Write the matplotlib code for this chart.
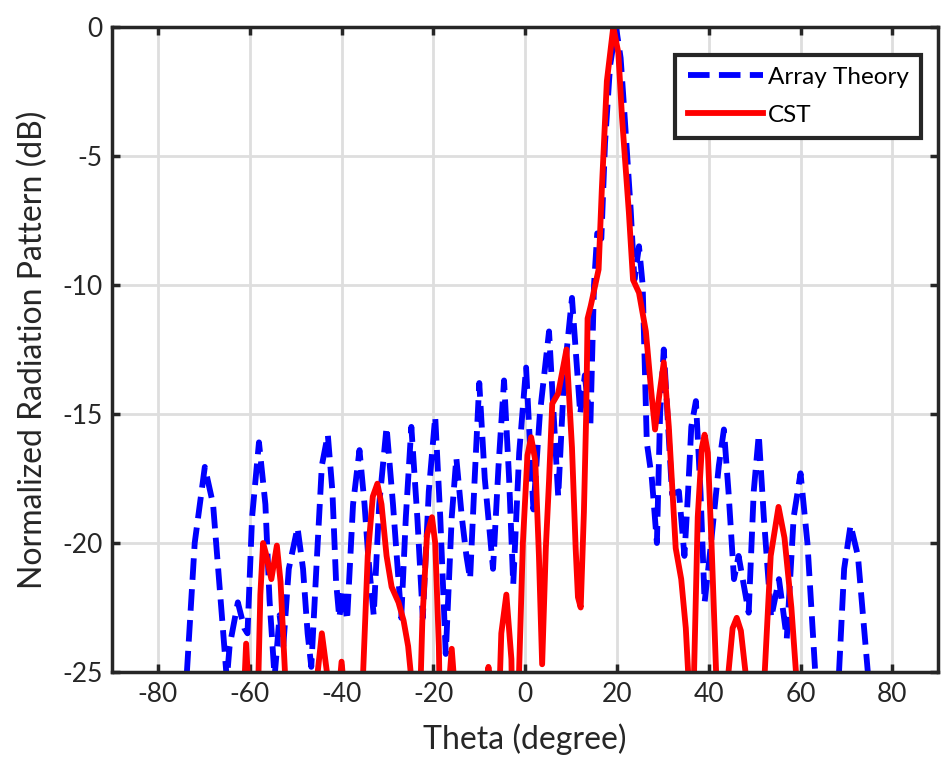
import numpy as np
import matplotlib
matplotlib.use('Agg')
from matplotlib import pyplot as plt

plt.rcParams['font.family'] = ['Lato', 'DejaVu Sans']
plt.rcParams['axes.unicode_minus'] = False

# Array Theory (blue dashed)
theory_theta = [-76, -73.7, -72, -69.8, -68, -66, -65, -64.4, -62.6, -61.2, -60.5, -59.5, -58, -56.6,
                -55.7, -54.6, -53.5, -52.7, -51.5, -49.6, -48.4, -47.4, -46.6, -45.5, -44.3, -43.0, -42,
                -41.2, -40.5, -39.6, -38.8, -37.5, -36.1, -35, -34.2, -33, -31.8, -30.2, -28.8, -27, -26,
                -24.8, -23.5, -22.3, -21, -19.6, -18.5, -17.3, -16, -15, -13.8, -12.8, -12, -11, -10,
                -8.8, -7, -5.8, -4.6, -3.5, -2.6, -1.3, 0.2, 1.0, 1.8, 3.2, 5.2, 6.2, 7.2, 8.5, 10.2,
                11.2, 12, 13, 14.2, 15.0, 15.7, 16.6, 17.4, 18.5, 19.8, 20.8, 21.5, 23, 23.8, 24.8, 25.6,
                26.5, 27.6, 28.7, 29.4, 30.2, 31, 32, 33.5, 34.7, 35.5, 36.2, 37.2, 38.2, 39.1, 40.5,
                42.2, 43.3, 44.3, 45.5, 46.5, 48.7, 49.8, 50.9, 52, 53.6, 55.3, 57, 58.5, 60, 61.5,
                63.3, 64.5, 67, 68.3, 69.5, 70.9, 72.5, 74.8, 76]
theory_db = [-32, -25, -20, -17.05, -18.5, -23, -25.3, -24, -22.3, -23.3, -23.5, -19, -16.1, -18.5,
             -22.2, -25.2, -22.8, -24.0, -21, -19.4, -21, -23.5, -24.8, -21, -17, -15.8, -18,
             -21.5, -22.9, -21.8, -23, -18.5, -16.4, -18.5, -20.5, -22.8, -18.5, -15.5, -18.5, -22.9, -19,
             -15.5, -19, -22.9, -18, -15.1, -19, -24.3, -19, -16.7, -19, -20.5, -21.4, -17.5, -13.8,
             -17.5, -21, -17, -13.7, -17.5, -21.6, -16.5, -13.2, -16, -18.7, -15, -11.8, -15, -18.2, -13.5, -10.5,
             -13, -15, -13.5, -15.5, -10, -8.0, -8.2, -4.5, -1.5, 0, -1.2, -3.0, -7.1, -9.8, -8.5, -10,
             -16.1, -17.5, -20, -15, -12.5, -15, -18.1, -18, -20.5, -18, -15.5, -14.5, -18, -22.3, -20,
             -17, -15.6, -18, -21.4, -20.5, -22.7, -18, -15.8, -19, -22.9, -21.4, -23.7, -19, -17.3, -20,
             -25.3, -30, -30, -25.3, -21, -19.3, -20.5, -25.3, -30]

# CST (red solid)
cst_theta = [-61.8, -60.8, -59.6, -58.5, -57.7, -57.1, -56.5, -55.3, -54.1, -53.3, -52.2, -51.5,
             -46, -45.2, -44.3, -43.2, -42, -40.7, -40, -39.3, -38,
             -36.2, -35.3, -34.3, -33.2, -32.2, -31.3, -30.2, -29.1, -27.6, -26.5, -25.5, -24.4, -24,
             -23.2, -22.4, -21.4, -20.3, -19.6, -18.8, -18.3,
             -16.8, -16, -15.2, -14, -8.6, -8, -7.4, -6, -5.2, -4.1, -3.0, -2.5,
             -1.5, -0.5, 0.5, 1.3, 2.2, 3, 3.7, 4.5, 5.2, 5.9, 7.2, 9.0, 10.2, 11.0, 11.5, 12.1, 12.8,
             13.3, 13.6, 14.3, 16.0, 16.7, 17.8, 19.2, 20.3, 21.1, 22.6, 23.5, 24.8, 26.3, 27.4, 28.3,
             29.2, 30.2, 31.3, 32.8, 34.0, 35.0, 35.8, 36.3,
             36.8, 37.6, 38.5, 39.1, 39.8, 40.6, 41.7, 42.2,
             43.5, 44.3, 45.2, 46.1, 47, 48, 48.8,
             51, 52.2, 53.5, 55.2, 56.5, 58.0, 59.2, 60]
cst_db = [-28, -23.9, -28, -28, -22, -20.0, -20.4, -21.4, -20.1, -21.5, -25.5, -32,
          -32, -25, -23.5, -25, -32, -26, -24.6, -26, -35,
          -30, -25, -20.5, -18.2, -17.7, -18.5, -20.5, -21.7, -22.3, -23, -24, -26, -30,
          -28, -23, -19.7, -19.0, -20, -24, -30,
          -26, -24.1, -26, -35, -25.5, -24.8, -25.5, -28, -23.5, -22.0, -24.5, -30,
          -26, -20, -16.6, -15.9, -16.8, -20.5, -24.7, -20.2, -17.6, -14.6, -14.2, -12.5, -16.3, -20.2, -22.1, -22.5, -18.8,
          -15.0, -11.3, -10.8, -9.4, -6.3, -2.1, 0.0, -1.0, -3.5, -7.2, -9.8, -10.3, -11.8, -14, -15.6,
          -14.3, -13.0, -15.5, -20.2, -21.4, -23.3, -26, -27,
          -25, -19, -16.3, -15.8, -16.5, -20, -25.5, -28,
          -30, -25, -23.3, -22.9, -23.4, -25, -28,
          -30, -25, -20.5, -18.6, -19.8, -22.5, -25.5, -30]

xticks = [-80, -60, -40, -20, 0, 20, 40, 60, 80]
yticks = [-25, -20, -15, -10, -5, 0]

fig = plt.figure(figsize=(9.42, 7.64), dpi=100)
ax = fig.add_axes([0.119, 0.1204, 0.877, 0.8443])

ax.plot(theory_theta, theory_db, '--', color='#0000ff', lw=4.2, label='Array Theory')
ax.plot(cst_theta, cst_db, '-', color='#ff0000', lw=4.2, label='CST')

ax.set_xlim(-90, 90)
ax.set_ylim(-25, 0)
ax.set_xticks(xticks)
ax.set_yticks(yticks)
ax.grid(True, color='#dedede', lw=2)
ax.set_axisbelow(True)
ax.tick_params(direction='in', top=True, right=True, length=6, width=2.5,
               labelsize=19, colors='#262626', pad=7)
for s in ax.spines.values():
    s.set_linewidth(2.5)
    s.set_color('#262626')

ax.set_xlabel('Theta (degree)', fontsize=23, color='#262626', labelpad=12)
ax.set_ylabel('Normalized Radiation Pattern (dB)', fontsize=23, color='#262626', labelpad=10)

leg = ax.legend(loc='upper right', bbox_to_anchor=(0.979, 0.957), borderaxespad=0,
                fontsize=17.5, handlelength=3.1, handletextpad=0.2, fancybox=False,
                framealpha=1, edgecolor='#262626', borderpad=0.5, labelspacing=0.7)
leg.get_frame().set_linewidth(3)

plt.savefig('out.png')
